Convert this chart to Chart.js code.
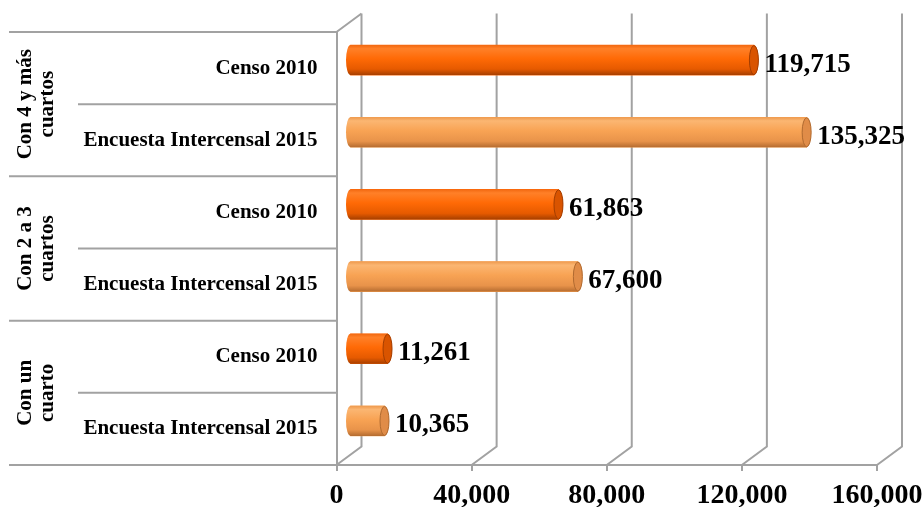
<!DOCTYPE html>
<html>
<head>
<meta charset="utf-8">
<script src="https://cdn.jsdelivr.net/npm/chart.js@4/dist/chart.umd.min.js"></script>
<style>
  body { margin: 0; background: #fff; }
  #wrap { width: 922px; height: 507px; }
</style>
</head>
<body>
<div id="wrap"><canvas id="chart"></canvas></div>
<script>
const groupLabels = [['Con 4 y más', 'cuartos'], ['Con 2 a 3', 'cuartos'], ['Con un', 'cuarto']];
const seriesNames = ['Censo 2010', 'Encuesta Intercensal 2015'];
const censo2010 = [119715, 61863, 11261];
const encuesta2015 = [135325, 67600, 10365];
const xTicks = [0, 40000, 80000, 120000, 160000];

// one row per (group, series), top to bottom
const rowLabels = groupLabels.flatMap(() => seriesNames);
const rowValues = groupLabels.flatMap((g, i) => [censo2010[i], encuesta2015[i]]);

const GRID = '#a2a2a2';
const FONT = '"Liberation Serif", "Times New Roman", serif';
const DX = 25, DY = -18.5;      // depth of the 3d box
const BX = 13, BY = -8;         // bars sit half way in
const RX = 4.5;                 // end cap radius

const looks = [
  { base: '#ff6a0a', stops: ['#f26810', '#ff8028', '#ff6a06', '#e65a00', '#a63f00'], cap: '#d95400', edge: '#a33d00' },
  { base: '#f8a252', stops: ['#ee9a4e', '#fbb672', '#f8a354', '#e8934a', '#b56c30'], cap: '#e08c48', edge: '#b06a30' }
];

const box3d = {
  id: 'box3d',
  beforeDatasetsDraw(chart) {
    const { ctx, chartArea: a, scales: { x, y, yg } } = chart;
    ctx.save();
    ctx.strokeStyle = GRID;
    ctx.lineWidth = 2;
    ctx.beginPath();
    // table lines on the left
    for (let i = 0; i <= rowLabels.length; i++) {
      const py = y.getPixelForValue(i - 0.5);
      ctx.moveTo(i % 2 === 0 ? yg.left - 1 : y.left, py);
      ctx.lineTo(a.left, py);
    }
    // back wall gridlines + floor diagonals
    x.ticks.forEach(t => {
      const px = x.getPixelForValue(t.value);
      ctx.moveTo(px + DX, a.top + DY);
      ctx.lineTo(px + DX, a.bottom + DY);
      ctx.lineTo(px, a.bottom);
    });
    ctx.moveTo(a.left, a.top);
    ctx.lineTo(a.left + DX, a.top + DY);
    ctx.stroke();
    ctx.restore();

    ctx.save();
    ctx.translate(BX, BY);
  },
  afterDatasetsDraw(chart) {
    const { ctx } = chart;
    const meta = chart.getDatasetMeta(0);
    meta.data.forEach((el, i) => {
      const { x, y, base, height } = el.getProps(['x', 'y', 'base', 'height'], true);
      const look = looks[i % 2];
      const top = y - height / 2, bot = y + height / 2, ry = height / 2;
      const g = ctx.createLinearGradient(0, top, 0, bot);
      [0, 0.12, 0.45, 0.8, 1].forEach((s, k) => g.addColorStop(s, look.stops[k]));
      ctx.beginPath();
      ctx.moveTo(base, top);
      ctx.lineTo(x, top);
      ctx.ellipse(x, y, RX, ry, 0, -Math.PI / 2, Math.PI / 2);
      ctx.lineTo(base, bot);
      ctx.ellipse(base, y, RX, ry, 0, Math.PI / 2, Math.PI * 1.5);
      ctx.closePath();
      ctx.fillStyle = g;
      ctx.fill();
      // end cap
      ctx.beginPath();
      ctx.ellipse(x, y, RX, ry - 0.5, 0, 0, Math.PI * 2);
      ctx.fillStyle = look.cap;
      ctx.fill();
      ctx.strokeStyle = look.edge;
      ctx.lineWidth = 1;
      ctx.stroke();

      // value label
      ctx.fillStyle = '#000';
      ctx.font = 'bold 27px ' + FONT;
      ctx.textAlign = 'left';
      ctx.textBaseline = 'middle';
      ctx.fillText(rowValues[i].toLocaleString('en-US'), x + RX + 6, y + 4.5);
    });
    ctx.restore();
  }
};

new Chart(document.getElementById('chart'), {
  type: 'bar',
  data: {
    labels: rowLabels,
    datasets: [{
      data: rowValues,
      backgroundColor: rowValues.map((v, i) => looks[i % 2].base),
      barThickness: 30,
      borderWidth: 0
    }]
  },
  options: {
    indexAxis: 'y',
    responsive: true,
    maintainAspectRatio: false,
    animation: false,
    layout: { padding: { left: 10, top: 32, right: 45, bottom: 0 } },
    plugins: { legend: { display: false }, tooltip: { enabled: false } },
    scales: {
      x: {
        min: 0,
        max: 160000,
        afterBuildTicks: s => { s.ticks = xTicks.map(v => ({ value: v })); },
        afterFit: s => { s.height = 42; s.paddingLeft = 0; s.paddingRight = 0; },
        border: { display: true, color: GRID, width: 2 },
        grid: { drawOnChartArea: false, drawTicks: true, tickLength: 6, color: GRID, lineWidth: 2 },
        ticks: {
          color: '#000',
          padding: 8,
          maxRotation: 0,
          font: { family: FONT, size: 28, weight: 'bold' },
          callback: v => v.toLocaleString('en-US')
        }
      },
      y: {
        weight: 0,
        afterFit: s => { s.width = 258.5; },
        border: { display: true, color: GRID, width: 2 },
        grid: { drawOnChartArea: false, drawTicks: false },
        ticks: {
          color: '#000',
          padding: 19,
          font: { family: FONT, size: 21, weight: 'bold' }
        }
      },
      yg: {
        type: 'category',
        position: 'left',
        weight: 1,
        labels: groupLabels,
        offset: true,
        afterFit: s => { s.width = 68; },
        border: { display: false },
        grid: { display: false, drawTicks: false },
        ticks: {
          color: '#000',
          padding: -14,
          crossAlign: 'center',
          minRotation: 90,
          maxRotation: 90,
          font: { family: FONT, size: 21, weight: 'bold', lineHeight: 1.05 }
        }
      }
    }
  },
  plugins: [box3d]
});
</script>
</body>
</html>
